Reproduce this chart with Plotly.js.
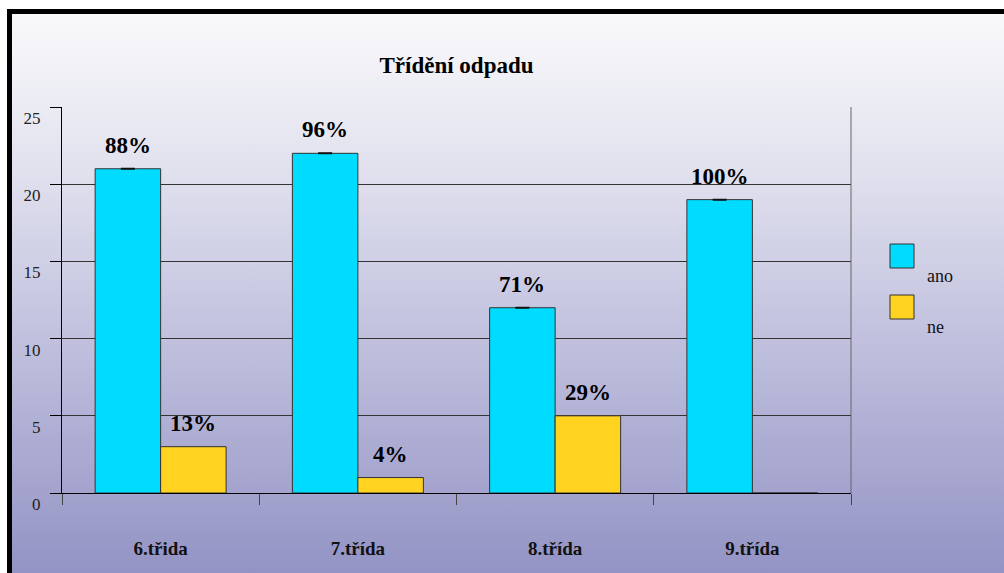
<!DOCTYPE html>
<html>
<head>
<meta charset="utf-8">
<script src="https://cdn.plot.ly/plotly-3.0.1.min.js"></script>
<style>
  html, body { margin: 0; padding: 0; background: #ffffff; width: 1004px; height: 573px; overflow: hidden; }
  #bg { position: absolute; left: 7px; top: 9px; width: 992px; height: 559px;
        border-top: 5px solid #000; border-left: 5px solid #000;
        background: linear-gradient(to bottom, #f9f9fb 0%, #e4e4f0 25%, #c4c4e0 55%, #9393c5 100%); }
  #chart { position: absolute; left: 0; top: 0; width: 1004px; height: 573px; }
</style>
</head>
<body>
<div id="bg"></div>
<div id="chart"></div>
<script>
const categories = ['6.třida', '7.třída', '8.třída', '9.třída'];
const seriesNames = ['ano', 'ne'];
const anoValues = [21, 22, 12, 19];
const neValues = [3, 1, 5, 0];
const anoLabels = ['88%', '96%', '71%', '100%'];
const neLabels = ['13%', '4%', '29%', ''];
const yTicks = [0, 5, 10, 15, 20, 25];

const colors = ['#00dcff', '#ffd320'];
const serif = 'Liberation Serif, Times New Roman, serif';
const bargap = 0.336;
const half = (1 - bargap) / 4;

const traces = [
  {
    type: 'bar', name: seriesNames[0], x: categories, y: anoValues,
    marker: { color: colors[0], line: { color: '#333', width: 1 } },
    error_y: { type: 'constant', value: 0, width: 7, thickness: 2, color: '#111' },
    hoverinfo: 'none'
  },
  {
    type: 'bar', name: seriesNames[1], x: categories, y: neValues,
    marker: { color: colors[1], line: { color: '#333', width: 1 } },
    hoverinfo: 'none'
  }
];

const annotations = [];
function addLabels(vals, labels, off) {
  vals.forEach((v, i) => {
    if (!labels[i]) return;
    annotations.push({
      xref: 'x', yref: 'y', x: i + off, y: v, text: '<b>' + labels[i] + '</b>',
      showarrow: false, yanchor: 'bottom', xanchor: 'center', yshift: 9,
      font: { family: serif, size: 23, color: '#000' }
    });
  });
}
addLabels(anoValues, anoLabels, -half);
addLabels(neValues, neLabels, half);

// manual legend
const l0 = 62, pw = 789, b0 = 493, ph = 386;
const px = p => (p - l0) / pw;
const py = p => (b0 - p) / ph;
const shapes = [
  { type: 'line', xref: 'paper', yref: 'paper', x0: 1, x1: 1, y0: 0, y1: 1, line: { color: '#666', width: 1 } }
];
const legendRows = [[244, 276], [295, 327]];
seriesNames.forEach((n, i) => {
  const [top, ty] = legendRows[i];
  shapes.push({ type: 'rect', xref: 'paper', yref: 'paper', x0: px(890), x1: px(914), y0: py(top + 24), y1: py(top),
    fillcolor: colors[i], line: { color: '#333', width: 1 } });
  annotations.push({ xref: 'paper', yref: 'paper', x: px(925), y: py(ty), xanchor: 'left', yanchor: 'middle',
    text: n, showarrow: false, font: { family: serif, size: 18, color: '#111' } });
});

const layout = {
  width: 1004, height: 573,
  margin: { l: 62, r: 153, t: 107, b: 80 },
  paper_bgcolor: 'rgba(0,0,0,0)', plot_bgcolor: 'rgba(0,0,0,0)',
  title: { text: '<b>Třídění odpadu</b>', font: { family: serif, size: 23, color: '#000' },
    xref: 'paper', x: 0.5, xanchor: 'center', yref: 'container', y: 1 - 65 / 573, yanchor: 'middle' },
  barmode: 'group', bargap: bargap, bargroupgap: 0,
  showlegend: false,
  xaxis: {
    type: 'category', showgrid: false, showline: true, linecolor: '#000', linewidth: 1,
    ticks: 'outside', tickson: 'boundaries', ticklen: 11, tickcolor: '#444', tickwidth: 1,
    tickfont: { family: serif, size: 19, color: '#111', weight: 'bold' },
    ticklabelstandoff: 38, fixedrange: true
  },
  yaxis: {
    range: [0, 25], tickvals: yTicks, showgrid: true, gridcolor: '#333', gridwidth: 1,
    zeroline: false, showline: true, linecolor: '#000', linewidth: 1,
    ticks: 'outside', ticklen: 11, tickcolor: '#000',
    tickfont: { family: serif, size: 17, color: '#222' },
    ticklabelstandoff: 6, ticklabelshift: 11, fixedrange: true
  },
  shapes: shapes,
  annotations: annotations
};

Plotly.newPlot('chart', traces, layout, { displayModeBar: false, staticPlot: true });
</script>
</body>
</html>
